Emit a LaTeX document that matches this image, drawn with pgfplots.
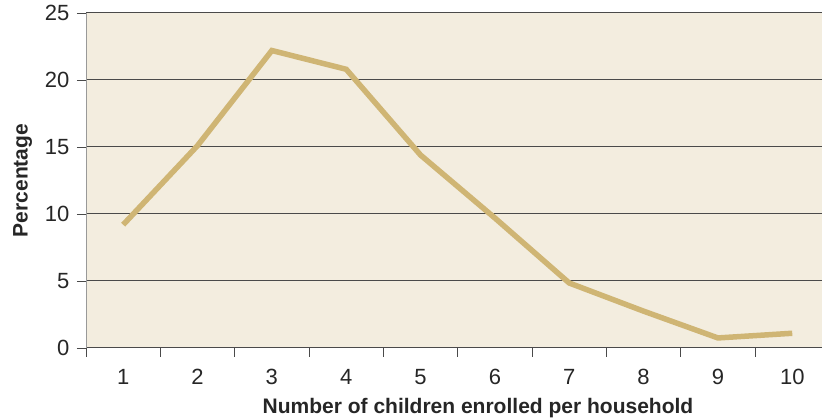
\documentclass[border=0pt]{standalone}
\usepackage{pgfplots}
\pgfplotsset{compat=1.18}
\usepackage{fontspec}
\setmainfont{Liberation Sans}
\definecolor{bg}{HTML}{F3EDDF}
\definecolor{ln}{HTML}{CFB574}
\definecolor{gridc}{HTML}{4A4A4A}
\begin{document}
\begin{tikzpicture}
\path[use as bounding box] (0,0) rectangle (822pt,420pt);
\begin{axis}[
  at={(86pt,72pt)}, anchor=south west,
  scale only axis, width=736pt, height=335pt,
  xmin=0.5, xmax=10.4, ymin=0, ymax=25,
  axis background/.style={fill=bg},
  axis x line*=bottom, axis y line*=left,
  x axis line style={draw=gridc, line width=1pt, -},
  y axis line style={draw=gray!80, line width=1pt, -},
  xtick={0.5,1.5,...,9.5},
  xticklabels={},
  extra x ticks={1,2,...,10},
  extra x tick style={major tick length=0pt, grid=none},
  ytick={0,5,...,25},
  tick align=outside, major tick length=9pt,
  tick style={draw=gridc, line width=0.8pt},
  ymajorgrids, grid style={draw=gridc, line width=1pt},
  tick label style={font=\fontsize{22}{25}\selectfont, text=black!85},
  /pgf/number format/assume math mode=true,
  xticklabel style={yshift=-18pt},
  yticklabel style={xshift=-4pt},
  xlabel={\bfseries Number of children enrolled per household},
  ylabel={\bfseries Percentage},
  label style={font=\fontsize{21}{24}\selectfont\bfseries, text=black!85},
  xlabel style={at={(ticklabel cs:0.5)}, anchor=north, yshift=3pt, xshift=24pt},
  ylabel style={yshift=6pt},
  clip=false,
]
\addplot[ln, line width=5.5pt, line join=miter] coordinates {
(1,9.2) (2,15.1) (3,22.2) (4,20.8) (5,14.4) (6,9.7) (7,4.85) (8,2.75) (9,0.75) (10,1.1)
};
\end{axis}
\end{tikzpicture}
\end{document}
